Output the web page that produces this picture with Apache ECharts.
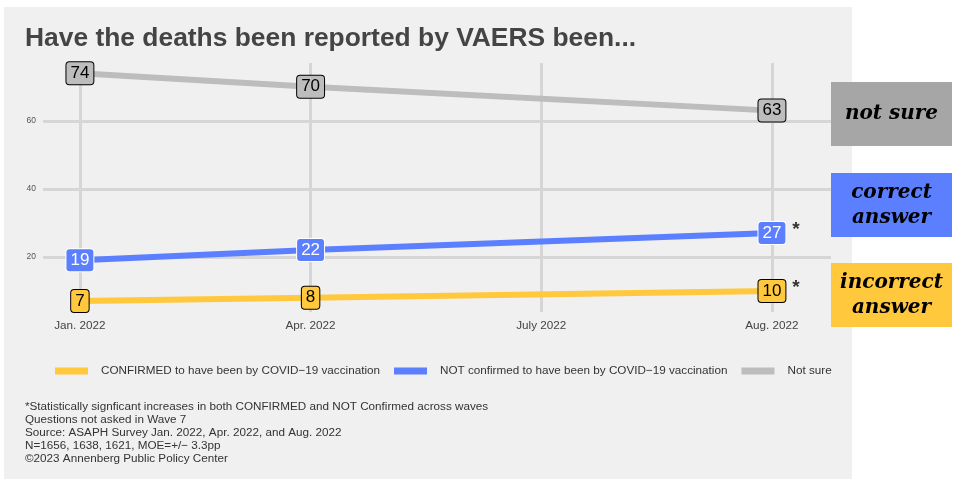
<!DOCTYPE html>
<html>
<head>
<meta charset="utf-8">
<script src="https://cdn.jsdelivr.net/npm/echarts@6/dist/echarts.min.js"></script>
<style>html,body{margin:0;padding:0;background:#fff}#c{width:958px;height:479px}</style>
</head>
<body>
<div id="c"></div>
<script>
const categories = ['Jan. 2022', 'Apr. 2022', 'July 2022', 'Aug. 2022'];
const confirmed = [7, 8, null, 10];
const notConfirmed = [19, 22, null, 27];
const notSure = [74, 70, null, 63];
const yTickValues = [20, 40, 60];
const significantIndex = 3;
const seriesNames = [
  'CONFIRMED to have been by COVID\u221219 vaccination',
  'NOT confirmed to have been by COVID\u221219 vaccination',
  'Not sure'
];
const footnotes = [
  '*Statistically signficant increases in both CONFIRMED and NOT Confirmed across waves',
  'Questions not asked in Wave 7',
  'Source: ASAPH Survey Jan. 2022, Apr. 2022, and Aug. 2022',
  'N=1656, 1638, 1621, MOE=+/\u2212 3.3pp',
  '\u00a92023 Annenberg Public Policy Center'
];

const YELLOW = '#ffc83d', BLUE = '#5b7fff', GRAY = '#bdbdbd';
const FONT = 'Liberation Sans, Arial, sans-serif';

function pts(arr) {
  const out = [];
  arr.forEach((v, i) => { if (v !== null) out.push([i, v]); });
  return out;
}

function lineSeries(name, arr, color, labelBorder, labelText) {
  return {
    name: name, type: 'line', data: pts(arr),
    symbol: 'circle', symbolSize: 1, showSymbol: true,
    itemStyle: { color: color },
    lineStyle: { color: color, width: 6 },
    emphasis: { disabled: true },
    label: {
      show: true, position: 'inside',
      formatter: p => String(p.value[1]),
      backgroundColor: color, borderColor: labelBorder, borderWidth: 1, borderRadius: 3,
      padding: [3, 4, 2, 4], fontSize: 17, color: labelText, fontFamily: FONT
    },
    z: 3
  };
}

const chart = echarts.init(document.getElementById('c'), null, { renderer: 'canvas' });
const catIdx = categories.map((c, i) => i);

const option = {
  backgroundColor: '#ffffff',
  animation: false,
  title: {
    text: 'Have the deaths been reported by VAERS been...',
    left: 25, top: 26, padding: 0,
    textStyle: { fontSize: 26.4, fontWeight: 'bold', color: '#444444', fontFamily: FONT }
  },
  grid: { left: 43, right: 127, top: 63, bottom: 167, containLabel: false },
  xAxis: {
    type: 'value', min: -0.16, max: 3.256,
    axisLine: { show: false },
    axisTick: { show: false, customValues: catIdx },
    axisLabel: {
      customValues: catIdx, formatter: v => categories[Math.round(v)],
      fontSize: 11.7, color: '#444', fontFamily: FONT, margin: 8
    },
    splitLine: { show: true, lineStyle: { color: '#d6d6d6', width: 3 } }
  },
  yAxis: {
    type: 'value', min: 3.8, max: 77,
    axisLine: { show: false },
    axisTick: { show: false, customValues: yTickValues },
    axisLabel: { customValues: yTickValues, fontSize: 8.5, color: '#555', fontFamily: FONT, margin: 7 },
    splitLine: { show: true, lineStyle: { color: '#d6d6d6', width: 3 } }
  },
  legend: {
    data: seriesNames.map((n, i) => ({ name: n, icon: 'rect', itemStyle: { color: [YELLOW, BLUE, GRAY][i] } })),
    left: 55, top: 365, padding: 0, itemWidth: 33, itemHeight: 7, itemGap: 14,
    textStyle: { fontSize: 11.7, color: '#333', fontFamily: FONT, padding: [0, 0, 0, 8] },
    selectedMode: false
  },
  series: [
    lineSeries(seriesNames[0], confirmed, YELLOW, '#000', '#000'),
    lineSeries(seriesNames[1], notConfirmed, BLUE, '#fff', '#fff'),
    lineSeries(seriesNames[2], notSure, GRAY, '#000', '#000'),
    {
      name: 'sig', type: 'scatter',
      data: [[significantIndex, notConfirmed[significantIndex]], [significantIndex, confirmed[significantIndex]]],
      symbolSize: 0.1, itemStyle: { color: 'rgba(0,0,0,0)' },
      label: { show: true, formatter: '*', position: 'inside', offset: [24, -3], fontSize: 19, fontWeight: 'bold', color: '#000', fontFamily: FONT },
      emphasis: { disabled: true }, z: 4
    }
  ],
  graphic: [
    { type: 'rect', shape: { x: 4, y: 7, width: 848, height: 472 }, style: { fill: '#f0f0f0' }, z: -10, silent: true },
    {
      type: 'text', x: 25, y: 400.5, z: 5,
      style: { text: footnotes.join('\n'), fontSize: 11.7, lineHeight: 12.9, fill: '#333', fontFamily: FONT }
    },
    { type: 'rect', shape: { x: 831, y: 82, width: 121, height: 64 }, style: { fill: '#a6a6a6' }, z: 5 },
    { type: 'text', x: 891.5, y: 114, z: 6, style: { text: 'not sure', align: 'center', verticalAlign: 'middle', fontSize: 20, fontStyle: 'italic', fontWeight: 'bold', fontFamily: 'DejaVu Serif, serif', fill: '#000' } },
    { type: 'rect', shape: { x: 831, y: 173, width: 121, height: 64 }, style: { fill: BLUE }, z: 5 },
    { type: 'text', x: 891.5, y: 205, z: 6, style: { text: 'correct\nanswer', align: 'center', verticalAlign: 'middle', lineHeight: 25, fontSize: 20, fontStyle: 'italic', fontWeight: 'bold', fontFamily: 'DejaVu Serif, serif', fill: '#000' } },
    { type: 'rect', shape: { x: 831, y: 263, width: 121, height: 64 }, style: { fill: YELLOW }, z: 5 },
    { type: 'text', x: 891.5, y: 295, z: 6, style: { text: 'incorrect\nanswer', align: 'center', verticalAlign: 'middle', lineHeight: 25, fontSize: 20, fontStyle: 'italic', fontWeight: 'bold', fontFamily: 'DejaVu Serif, serif', fill: '#000' } }
  ]
};
chart.setOption(option);
</script>
</body>
</html>
